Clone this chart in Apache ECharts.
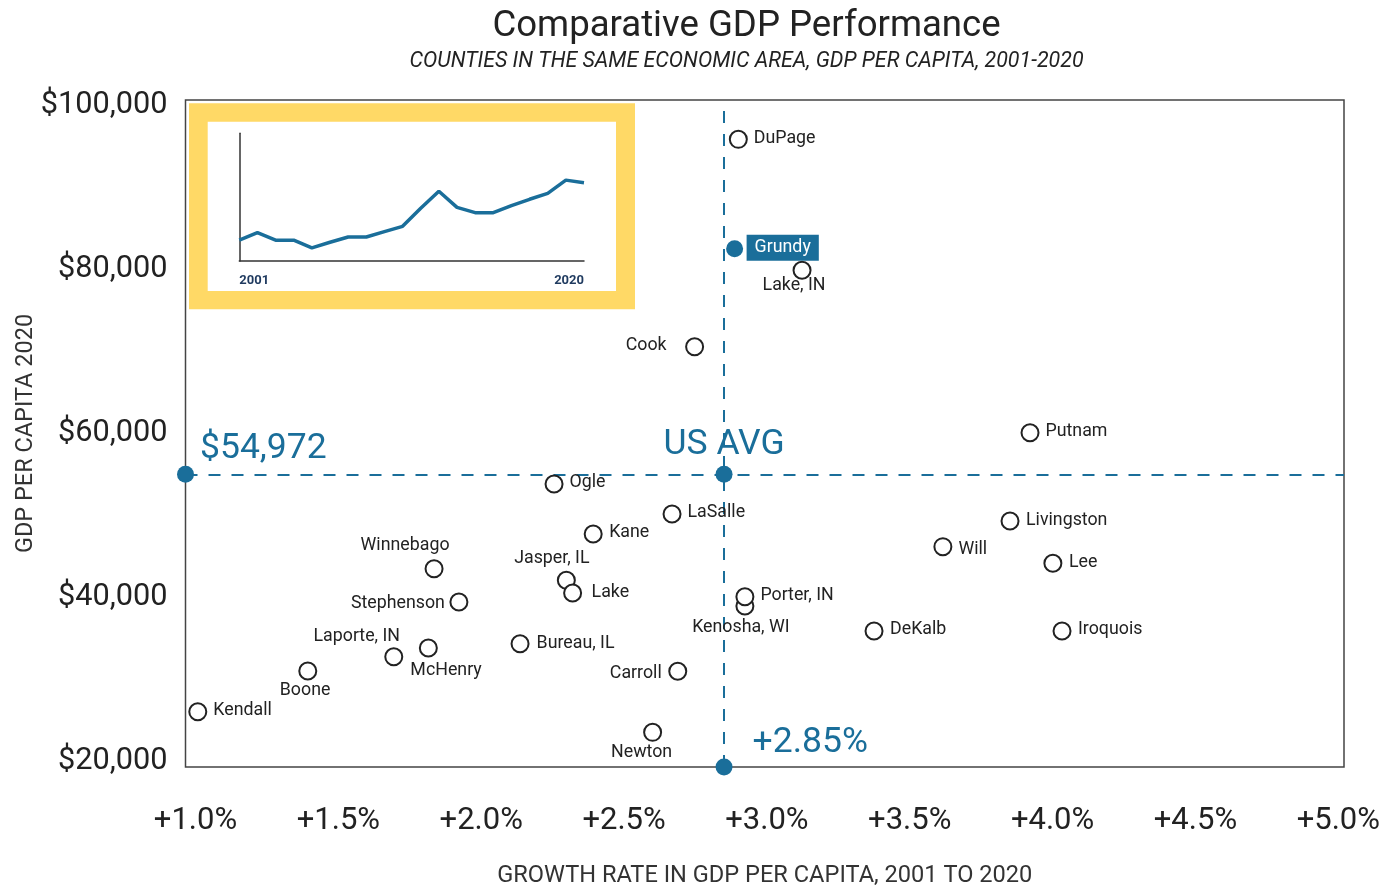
<!DOCTYPE html>
<html><head><meta charset="utf-8">
<script src="https://cdn.jsdelivr.net/npm/echarts@6/dist/echarts.min.js"></script>
<style>html,body{margin:0;padding:0;background:#fff;overflow:hidden}#chart{display:block;width:1382px;height:886px}</style>
</head><body><div id="chart"></div>
<script>
// ---------------- data ----------------
const counties = ['DuPage','Grundy','Lake, IN','Cook','Putnam','Ogle','LaSalle','Kane','Livingston','Will','Lee','Winnebago','Jasper, IL','Lake','Stephenson','Kenosha, WI','Porter, IN','Iroquois','DeKalb','Bureau, IL','McHenry','Laporte, IN','Carroll','Boone','Kendall','Newton'];
const growthRate = [2.900, 2.887, 3.123, 2.747, 3.921, 2.255, 2.668, 2.392, 3.851, 3.616, 4.001, 1.835, 2.298, 2.320, 1.922, 2.923, 2.923, 4.033, 3.375, 2.136, 1.815, 1.694, 2.688, 1.393, 1.008, 2.600];
const gdpPerCapita = [95850, 82500, 79870, 70540, 60050, 53790, 50130, 47690, 49270, 46140, 44110, 43450, 42040, 40490, 39390, 38900, 40030, 35850, 35850, 34300, 33770, 32710, 30930, 30970, 26000, 23480];
const highlighted = 'Grundy';
const usAvgGrowth = 2.85;
const usAvgGdp = 54972;
const xTicks = [1.0, 1.5, 2.0, 2.5, 3.0, 3.5, 4.0, 4.5, 5.0];
const yTicks = [20000, 40000, 60000, 80000, 100000];
const insetYears = ['2001','2002','2003','2004','2005','2006','2007','2008','2009','2010','2011','2012','2013','2014','2015','2016','2017','2018','2019','2020'];
const insetValues = [54800, 58300, 54800, 54800, 51200, 53800, 56300, 56300, 58800, 61300, 69800, 77800, 70200, 67700, 67700, 71000, 74000, 76800, 83000, 81800];

// ---------------- style / layout ----------------
const BLUE = '#1a6e9a';
const FONT = 'Roboto';
const X_MIN = 0.965, X_MAX = 5.02, Y_MIN = 19250, Y_MAX = 100650;
// label placement: [align, dx, dy] relative to the point centre
const labelPlace = {
  'DuPage':['left',15.5,-1], 'Grundy':['left',12,-1], 'Lake, IN':['center',-8,15.5], 'Cook':['right',-28,-1],
  'Putnam':['left',15.5,-1], 'Ogle':['left',15.5,-1.5], 'LaSalle':['left',15.5,-1], 'Kane':['left',16,-1],
  'Livingston':['left',16,0], 'Will':['left',15.5,2.5], 'Lee':['left',16,-0.5], 'Winnebago':['center',-29,-23.5],
  'Jasper, IL':['center',-14.5,-21.5], 'Lake':['left',19,-0.5], 'Stephenson':['right',-14,1.3], 'Kenosha, WI':['center',-4,21.3],
  'Porter, IN':['left',15.5,-0.7], 'Iroquois':['left',16,-1], 'DeKalb':['left',16,-1], 'Bureau, IL':['left',16.5,0.3],
  'McHenry':['center',17.7,22.7], 'Laporte, IN':['center',-37,-20], 'Carroll':['right',-16,2], 'Boone':['center',-2.7,19.7],
  'Kendall':['left',15.5,-1], 'Newton':['center',-11,20.4]
};

const countyData = counties.map((name, i) => {
  const [align, dx, dy] = labelPlace[name];
  const item = { name, value: [growthRate[i], gdpPerCapita[i]], label: { align, offset: [dx, dy] } };
  if (name === highlighted) {
    item.itemStyle = { color: BLUE, borderWidth: 0, opacity: 1 };
    item.label = { align, offset: [dx, dy], color: '#fff', backgroundColor: BLUE, padding: [4, 8] };
  }
  return item;
});

const fmtMoney = v => '$' + Math.round(v).toLocaleString('en-US');
const fmtPct = (v, d) => '+' + v.toFixed(d) + '%';

const chart = echarts.init(document.getElementById('chart'), null, {renderer: 'canvas', width: 1382, height: 886});
chart.setOption({
  animation: false,
  backgroundColor: '#fff',
  textStyle: { fontFamily: FONT },
  title: [
    { text: 'Comparative GDP Performance', left: 746.5, top: 8, textAlign: 'center', padding: 0,
      textStyle: { fontFamily: FONT, fontSize: 36.6, fontWeight: 'normal', color: '#222' } },
    { text: 'COUNTIES IN THE SAME ECONOMIC AREA, GDP PER CAPITA, 2001-2020', left: 746.5, top: 51, textAlign: 'center', padding: 0,
      textStyle: { fontFamily: FONT, fontSize: 21.4, fontStyle: 'italic', fontWeight: 'normal', color: '#222' } }
  ],
  grid: [
    { left: 185.5, right: 38, top: 100, bottom: 119, show: true, borderColor: '#444', borderWidth: 1.5, backgroundColor: 'transparent', outerBoundsMode: 'none', containLabel: false },
    { left: 239.3, top: 133.3, width: 344.7, height: 127.7, show: false, outerBoundsMode: 'none', containLabel: false }
  ],
  xAxis: [
    { type: 'value', gridIndex: 0, min: X_MIN, max: X_MAX,
      name: 'GROWTH RATE IN GDP PER CAPITA, 2001 TO 2020', nameLocation: 'middle', nameGap: 97, nameMoveOverlap: false,
      nameTextStyle: { fontFamily: FONT, fontSize: 23.6, color: '#333' },
      axisLine: { show: false }, axisTick: { show: false }, splitLine: { show: false },
      axisLabel: { customValues: xTicks, formatter: v => fmtPct(v, 1), fontFamily: FONT, fontSize: 31, color: '#222', margin: 39 } },
    { type: 'category', gridIndex: 1, data: insetYears, boundaryGap: false, z: 30,
      axisLine: { show: true, lineStyle: { color: '#333', width: 1.5 } }, axisTick: { show: false }, splitLine: { show: false },
      axisLabel: { interval: 18, alignMinLabel: 'left', alignMaxLabel: 'right', fontFamily: FONT, fontSize: 13, fontWeight: 'bold', color: '#1f3a5f', margin: 13 } }
  ],
  yAxis: [
    { type: 'value', gridIndex: 0, min: Y_MIN, max: Y_MAX,
      name: 'GDP PER CAPITA 2020', nameLocation: 'middle', nameGap: 147, nameMoveOverlap: false,
      nameTextStyle: { fontFamily: FONT, fontSize: 23.5, color: '#333' },
      axisLine: { show: false }, axisTick: { show: false }, splitLine: { show: false },
      axisLabel: { customValues: yTicks, formatter: v => fmtMoney(v), fontFamily: FONT, fontSize: 30.7, color: '#222', margin: 18, padding: [6, 0, 0, 0] } },
    { type: 'value', gridIndex: 1, min: 45000, max: 105000, z: 30,
      axisLine: { show: true, lineStyle: { color: '#333', width: 1.5 } }, axisTick: { show: false },
      splitLine: { show: false }, axisLabel: { show: false } }
  ],
  graphic: [
    { type: 'rect', z: 20, shape: { x: 189, y: 103.3, width: 446, height: 206 }, style: { fill: '#ffd966' } },
    { type: 'rect', z: 21, shape: { x: 207.7, y: 121.7, width: 408.3, height: 169.3 }, style: { fill: '#fff' } }
  ],
  series: [
    { type: 'scatter', name: 'US average', xAxisIndex: 0, yAxisIndex: 0, z: 8, clip: false,
      symbol: 'circle', symbolSize: 17, itemStyle: { color: BLUE, opacity: 1 },
      emphasis: { disabled: true },
      label: { show: true, position: 'inside', verticalAlign: 'middle', fontFamily: FONT, fontSize: 35.5, color: BLUE, textBorderWidth: 0, opacity: 1 },
      data: [
        { value: [X_MIN, usAvgGdp], label: { formatter: fmtMoney(usAvgGdp), align: 'left', offset: [14.5, -25] } },
        { value: [usAvgGrowth, usAvgGdp], label: { formatter: 'US AVG', align: 'center', offset: [0, -29] } },
        { value: [usAvgGrowth, Y_MIN], label: { formatter: fmtPct(usAvgGrowth, 2), align: 'left', offset: [28.5, -24] } }
      ],
      markLine: { silent: true, symbol: ['none', 'none'], label: { show: false }, animation: false,
        lineStyle: { color: BLUE, width: 2, type: [12, 11], opacity: 1 },
        data: [{ yAxis: usAvgGdp }, { xAxis: usAvgGrowth }] }
    },
    { type: 'scatter', name: 'Counties', xAxisIndex: 0, yAxisIndex: 0, z: 10, clip: false,
      symbol: 'circle', symbolSize: 17,
      itemStyle: { color: '#fff', borderColor: '#222', borderWidth: 2, opacity: 1 },
      emphasis: { disabled: true },
      label: { show: true, position: 'inside', formatter: '{b}', verticalAlign: 'middle', fontFamily: FONT, fontSize: 17.8, color: '#222', textBorderWidth: 0 },
      data: countyData
    },
    { type: 'line', name: 'Grundy GDP per capita', xAxisIndex: 1, yAxisIndex: 1, z: 30,
      data: insetValues, symbol: 'none', lineStyle: { color: BLUE, width: 3.5 }, emphasis: { disabled: true } }
  ]
});
</script></body></html>
